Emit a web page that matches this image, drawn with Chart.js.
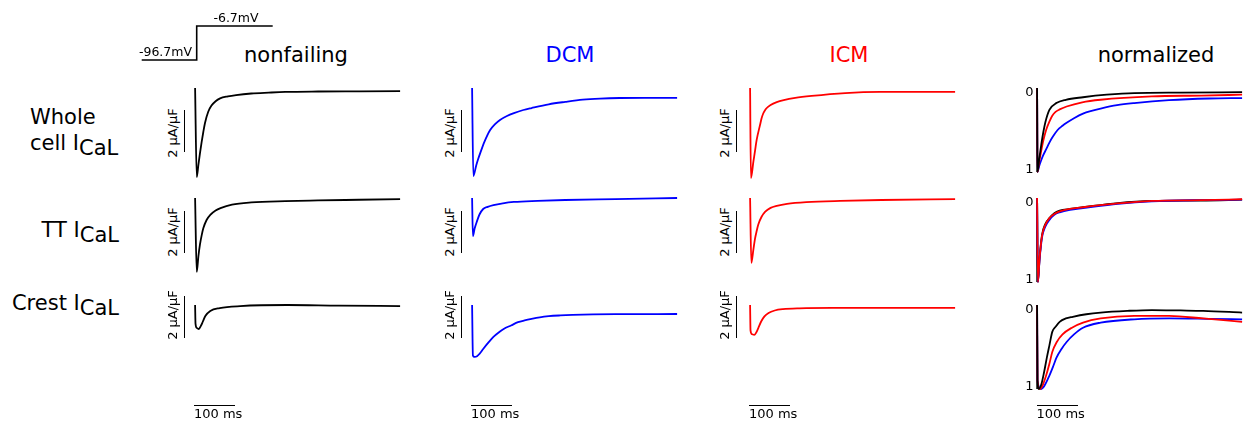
<!DOCTYPE html>
<html>
<head>
<meta charset="utf-8">
<script src="https://cdn.jsdelivr.net/npm/chart.js@4.4.0/dist/chart.umd.min.js"></script>
<style>
  body { margin: 0; width: 1243px; height: 422px; overflow: hidden; position: relative; background: #fff; font-family: "DejaVu Sans", sans-serif; }
  canvas { position: absolute; }
  .t { position: absolute; white-space: nowrap; line-height: 1; color: #000; }
  .bar { position: absolute; background: #000; }
  sub { font-size: 1em; vertical-align: baseline; position: relative; top: 5px; }
</style>
</head>
<body>
<script>
// ---- data: time in ms, current in uA/uF ----
const nfWholeT = [0, 4, 8, 12, 16, 20, 24, 32, 40, 50, 61, 80, 100, 137, 180, 220, 300, 400, 500];
const nfWholeV = [0, -4.05, -3.5, -2.95, -2.45, -2.0, -1.6, -1.08, -0.8, -0.6, -0.47, -0.38, -0.32, -0.25, -0.21, -0.18, -0.16, -0.15, -0.14];
const nfTtT = [0, 4, 8, 12, 16, 20, 28, 37, 50, 62, 90, 137, 220, 300, 400, 500];
const nfTtV = [0, -3.36, -2.65, -2.1, -1.7, -1.38, -1.0, -0.77, -0.57, -0.46, -0.3, -0.2, -0.14, -0.11, -0.08, -0.05];
const nfCrestT = [0, 1, 4, 9, 14, 19, 25, 37, 60, 110, 225, 350, 500];
const nfCrestV = [0, -0.85, -1.04, -1.09, -0.95, -0.75, -0.5, -0.27, -0.14, -0.05, 0, -0.03, -0.05];

const dcmWholeT = [0, 3, 10, 15, 20, 30, 44, 56, 68, 85, 102, 125, 145, 187, 227, 270, 312, 360, 420, 500];
const dcmWholeV = [0, -4.0, -3.52, -3.22, -2.95, -2.45, -1.91, -1.64, -1.45, -1.27, -1.14, -1.0, -0.91, -0.74, -0.63, -0.53, -0.48, -0.455, -0.45, -0.45];
const dcmTtT = [0, 2, 6, 12, 18, 27, 38, 52, 75, 102, 160, 227, 350, 500];
const dcmTtV = [0, -1.73, -1.4, -1.05, -0.75, -0.5, -0.4, -0.32, -0.24, -0.18, -0.13, -0.09, -0.05, 0];
const dcmCrestT = [0, 2, 6, 12, 18, 27, 40, 52, 65, 77, 95, 112, 128, 145, 165, 187, 215, 245, 295, 350, 500];
const dcmCrestV = [0, -2.3, -2.36, -2.33, -2.22, -2.0, -1.7, -1.45, -1.25, -1.09, -0.93, -0.78, -0.7, -0.63, -0.56, -0.51, -0.475, -0.45, -0.425, -0.415, -0.41];

const icmWholeT = [0, 2, 8, 12, 16, 24, 28, 32, 36, 40, 50, 65, 82, 110, 150, 232, 317, 400, 500];
const icmWholeV = [0, -4.1, -3.35, -2.86, -2.36, -1.7, -1.38, -1.16, -1.02, -0.92, -0.77, -0.64, -0.55, -0.45, -0.36, -0.23, -0.18, -0.18, -0.18];
const icmTtT = [0, 3, 8, 12, 16, 20, 28, 37, 50, 65, 90, 137, 220, 320, 500];
const icmTtV = [0, -2.95, -2.35, -1.85, -1.5, -1.2, -0.85, -0.62, -0.45, -0.36, -0.27, -0.19, -0.13, -0.09, -0.05];
const icmCrestT = [0, 1, 5, 10, 15, 20, 27, 35, 45, 60, 80, 120, 200, 300, 500];
const icmCrestV = [0, -1.15, -1.33, -1.36, -1.25, -1.05, -0.75, -0.52, -0.36, -0.25, -0.19, -0.15, -0.13, -0.13, -0.13];

// normalized traces (0 = baseline, 1 = peak)
const nWholeNfT = [0, 1, 5, 10, 15, 20, 30, 47, 70, 112, 170, 237, 350, 500];
const nWholeNfV = [0, 1, 0.85, 0.68, 0.53, 0.41, 0.26, 0.18, 0.14, 0.11, 0.08, 0.06, 0.055, 0.05];
const nWholeIcmT = [0, 1, 5, 10, 15, 22, 30, 37, 45, 55, 72, 110, 155, 280, 400, 500];
const nWholeIcmV = [0, 1, 0.88, 0.75, 0.63, 0.5, 0.4, 0.33, 0.285, 0.255, 0.22, 0.17, 0.14, 0.1, 0.09, 0.08];
const nWholeDcmT = [0, 1, 5, 10, 15, 22, 30, 37, 50, 62, 72, 90, 112, 135, 155, 195, 237, 322, 420, 500];
const nWholeDcmV = [0, 1, 0.93, 0.86, 0.8, 0.73, 0.65, 0.59, 0.5, 0.45, 0.415, 0.36, 0.305, 0.27, 0.245, 0.205, 0.18, 0.145, 0.125, 0.12];

const nTtT = [0, 2, 6, 12, 20, 30, 42, 55, 80, 112, 197, 280, 400, 500];
const nTtNfV = [0, 1, 0.72, 0.44, 0.31, 0.24, 0.18, 0.15, 0.13, 0.11, 0.06, 0.035, 0.03, 0.02];
const nTtDcmV = [0, 1, 0.74, 0.47, 0.34, 0.26, 0.2, 0.17, 0.14, 0.12, 0.07, 0.04, 0.025, 0.02];
const nTtIcmV = [0, 1, 0.72, 0.45, 0.32, 0.24, 0.19, 0.16, 0.13, 0.11, 0.065, 0.035, 0.025, 0.015];

const nCrestNfT = [0, 1, 4, 10, 17, 24, 30, 37, 45, 55, 70, 87, 120, 155, 220, 280, 350, 405, 500];
const nCrestNfV = [0, 0.9, 1, 0.95, 0.8, 0.62, 0.48, 0.32, 0.26, 0.2, 0.16, 0.14, 0.11, 0.09, 0.07, 0.06, 0.065, 0.07, 0.09];
const nCrestIcmT = [0, 1, 7, 14, 22, 30, 37, 48, 62, 85, 112, 155, 237, 322, 405, 500];
const nCrestIcmV = [0, 0.9, 1, 0.95, 0.84, 0.7, 0.56, 0.44, 0.35, 0.27, 0.21, 0.16, 0.13, 0.13, 0.16, 0.2];
const nCrestDcmT = [0, 1, 9, 18, 30, 40, 47, 60, 72, 90, 112, 155, 237, 322, 420, 500];
const nCrestDcmV = [0, 0.9, 1, 0.96, 0.84, 0.72, 0.63, 0.52, 0.44, 0.35, 0.27, 0.21, 0.17, 0.16, 0.165, 0.17];

// voltage protocol inset
const protoT = [-55, 0, 0, 76];
const protoV = [-96.7, -96.7, -6.7, -6.7];

const columnTitles = ['nonfailing', 'DCM', 'ICM', 'normalized'];
const BLACK = '#000000', BLUE = '#0000ff', RED = '#ff0000';
const titleColors = [BLACK, BLUE, RED, BLACK];

// ---- layout ----
const PX_MS = 0.41;     // px per ms
const PX_UA = 22;       // px per uA/uF
const PX_NORM = 84;     // px per normalized unit
const colX = [195, 472, 750, 1037.5];   // pixel of t = 0
const colCenter = [296, 570, 849, 1156];
const rowBase = [88, 198, 305];          // pixel of zero current
const barOffset = [11, 11, 14];          // scale bar distance left of trace
const barTop = [110, 211, 296];
const barText = [133, 232, 315];

function pts(t, v) { return t.map((x, i) => ({ x, y: v[i] })); }

function makeCanvas(left, top, w, h) {
  const c = document.createElement('canvas');
  c.width = w; c.height = h;
  c.style.left = left + 'px'; c.style.top = top + 'px';
  c.style.width = w + 'px'; c.style.height = h + 'px';
  document.body.appendChild(c);
  return c;
}

function lineChart(canvas, datasets, xr, yr, reverse, plugins) {
  return new Chart(canvas, {
    type: 'line',
    data: { datasets },
    options: {
      responsive: false,
      animation: false,
      events: [],
      layout: { padding: 0 },
      plugins: { legend: { display: false }, tooltip: { enabled: false } },
      elements: {
        point: { radius: 0 },
        line: { borderWidth: 1.8, cubicInterpolationMode: 'monotone' }
      },
      scales: {
        x: { type: 'linear', display: false, min: xr[0], max: xr[1] },
        y: { type: 'linear', display: false, min: yr[0], max: yr[1], reverse: !!reverse }
      }
    },
    plugins: plugins || []
  });
}

function text(html, x, y, size, opts = {}) {
  const d = document.createElement('div');
  d.className = 't';
  d.innerHTML = html;
  d.style.left = x + 'px';
  d.style.top = y + 'px';
  d.style.fontSize = size + 'px';
  if (opts.color) d.style.color = opts.color;
  const ax = opts.align === 'left' ? '0' : opts.align === 'right' ? '-100%' : '-50%';
  d.style.transform = `translate(${ax}, -50%)` + (opts.rotate ? ' rotate(-90deg)' : '');
  document.body.appendChild(d);
}

function bar(x, y, w, h) {
  const d = document.createElement('div');
  d.className = 'bar';
  Object.assign(d.style, { left: x + 'px', top: y + 'px', width: w + 'px', height: h + 'px' });
  document.body.appendChild(d);
}

// ---- raw current panels ----
const raw = [
  [[nfWholeT, nfWholeV], [nfTtT, nfTtV], [nfCrestT, nfCrestV]],
  [[dcmWholeT, dcmWholeV], [dcmTtT, dcmTtV], [dcmCrestT, dcmCrestV]],
  [[icmWholeT, icmWholeV], [icmTtT, icmTtV], [icmCrestT, icmCrestV]]
];
const rawColors = [BLACK, BLUE, RED];

const W = 217, H = 110, PAD = 8;
raw.forEach((col, ci) => {
  col.forEach(([t, v], ri) => {
    const left = colX[ci] - 10 * PX_MS;
    const c = makeCanvas(left, rowBase[ri] - PAD, W, H);
    const yMax = PAD / PX_UA;
    lineChart(c, [{ data: pts(t, v), borderColor: rawColors[ci] }],
      [-10, -10 + W / PX_MS], [yMax - H / PX_UA, yMax]);
    // 2 uA/uF scale bar
    bar(colX[ci] - barOffset[ci], barTop[ri], 1.3, 42);
    text('2 µA/µF', colX[ci] - barOffset[ci] - 12, barText[ri], 13, { rotate: true });
  });
});

// ---- normalized panels ----
const normAxis = {
  id: 'normAxis',
  beforeDatasetsDraw(chart) {
    const { ctx, scales: { x, y } } = chart;
    ctx.save();
    ctx.strokeStyle = BLACK;
    ctx.lineWidth = 1.6;
    ctx.beginPath();
    ctx.moveTo(x.getPixelForValue(0), y.getPixelForValue(0));
    ctx.lineTo(x.getPixelForValue(0), y.getPixelForValue(1));
    ctx.stroke();
    ctx.restore();
  }
};

const norm = [
  [[nWholeNfT, nWholeNfV, BLACK], [nWholeIcmT, nWholeIcmV, RED], [nWholeDcmT, nWholeDcmV, BLUE]],
  [[nTtT, nTtIcmV, RED], [nTtT, nTtDcmV, BLUE], [nTtT, nTtNfV, BLACK]],
  [[nCrestNfT, nCrestNfV, BLACK], [nCrestIcmT, nCrestIcmV, RED], [nCrestDcmT, nCrestDcmV, BLUE]]
];
const NH = 100;
norm.forEach((traces, ri) => {
  const left = colX[3] - 10 * PX_MS;
  const c = makeCanvas(left, rowBase[ri] - PAD, W, NH);
  const yMin = -PAD / PX_NORM;
  lineChart(c, traces.map(([t, v, col]) => ({ data: pts(t, v), borderColor: col })),
    [-10, -10 + W / PX_MS], [yMin, yMin + NH / PX_NORM], true, [normAxis]);
  text('0', colX[3] - 4, rowBase[ri] + 2.5, 13, { align: 'right' });
  text('1', colX[3] - 4, rowBase[ri] + PX_NORM - 4, 13, { align: 'right' });
});

// ---- 100 ms bars ----
colX.forEach((x0) => {
  bar(x0 - 1, 404.5, 100 * PX_MS, 1.3);
  text('100 ms', x0 - 1, 413, 13, { align: 'left' });
});

// ---- titles and row labels ----
columnTitles.forEach((s, i) => text(s, colCenter[i], 55, 21, { color: titleColors[i] }));
text('Whole', 30, 117, 21, { align: 'left' });
text('cell I<sub>CaL</sub>', 30, 143, 21, { align: 'left' });
text('TT I<sub>CaL</sub>', 119, 230, 21, { align: 'right' });
text('Crest I<sub>CaL</sub>', 119, 303, 21, { align: 'right' });

// ---- voltage protocol inset ----
{
  const left = 135, top = 15, w = 145, h = 55;
  const k = 34 / 90;                       // px per mV
  const x0 = 196.7 - left;                 // px of step
  const vMax = -6.7 + (26 - top) / k;
  lineChart(makeCanvas(left, top, w, h), [{ data: pts(protoT, protoV), borderColor: BLACK, borderWidth: 1.6, cubicInterpolationMode: 'default', tension: 0 }],
    [-x0, w - x0], [vMax - h / k, vMax]);
  text('-96.7mV', 192, 52, 12.5, { align: 'right' });
  text('-6.7mV', 236, 18, 12.5);
}
</script>
</body>
</html>
